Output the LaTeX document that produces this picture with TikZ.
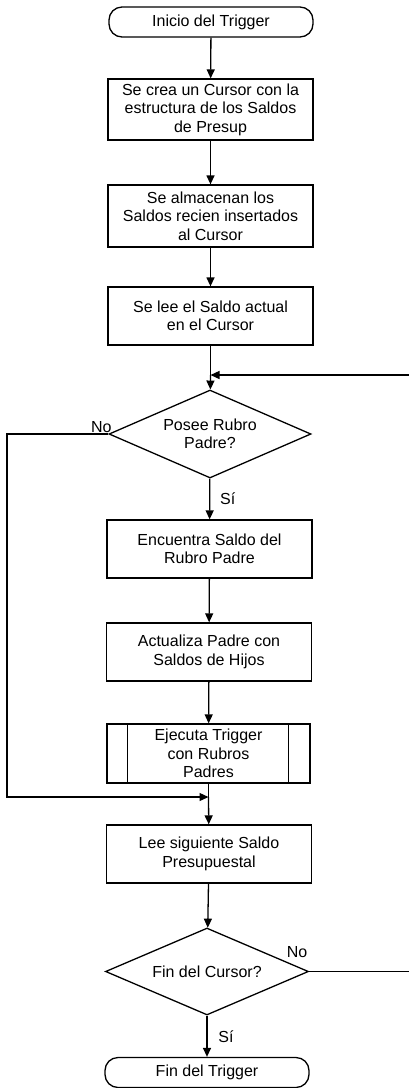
\documentclass[tikz,border=0pt]{standalone}
\usepackage{fontspec}
\setmainfont{Liberation Sans}
\usetikzlibrary{shapes.geometric,arrows.meta}
\tikzset{
  txt/.style={font=\fontsize{16}{18.5}\selectfont, align=center},
  proc/.style={txt, draw, line width=1.3pt, minimum width=205pt, minimum height=58pt, inner sep=0pt},
  term/.style={txt, draw, line width=1.3pt, rounded corners=13pt, minimum width=204pt, minimum height=30pt, inner sep=0pt},
  dec/.style={txt, draw, line width=1.3pt, diamond, aspect=2.3, minimum width=202pt, minimum height=88pt, inner sep=0pt},
  conn/.style={line width=1.3pt},
  arr/.style={conn, -{Triangle[length=9pt,width=8pt]}},
  lbl/.style={font=\fontsize{16}{18.5}\selectfont, inner sep=0pt}
}
\begin{document}
\begin{tikzpicture}[x=1pt,y=-1pt]
\useasboundingbox (0,0) rectangle (409,1088);
\node[term] (start) at (211,22) {Inicio del Trigger};
\node[proc, minimum height=61pt] (b1) at (210.5,109.5) {Se crea un Cursor con la\\estructura de los Saldos\\de Presup};
\node[proc, minimum height=62pt] (b2) at (210.5,216) {Se almacenan los\\Saldos recien insertados\\al Cursor};
\node[proc] (b3) at (210.5,316) {Se lee el Saldo actual\\en el Cursor};
\coordinate (m1) at (210.5,375);
\node[dec] (d1) at (210,434) {Posee Rubro\\Padre?};
\node[proc] (b4) at (209.5,549) {Encuentra Saldo del\\Rubro Padre};
\node[proc] (b5) at (209,652) {Actualiza Padre con\\Saldos de Hijos};
\node[proc, minimum width=203pt, minimum height=59pt] (b6) at (208.5,753.5) {Ejecuta Trigger\\con Rubros\\Padres};
\draw[conn] ([xshift=21pt]b6.north west) -- ([xshift=21pt]b6.south west);
\draw[conn] ([xshift=-22pt]b6.north east) -- ([xshift=-22pt]b6.south east);
\coordinate (m2) at (208.5,797);
\node[proc] (b7) at (209,854) {Lee siguiente Saldo\\Presupuestal};
\node[dec, minimum width=203pt, minimum height=87pt] (d2) at (207,971.5) {Fin del Cursor?};
\node[term] (end) at (207,1072.5) {Fin del Trigger};
% connectors
\draw[arr] (start) -- (b1);
\draw[arr] (b1) -- (b2);
\draw[arr] (b2) -- (b3);
\draw[conn] (b3) -- (m1);
\draw[arr] (m1) -- (d1);
\draw[arr] (d1) -- node[lbl, pos=0.5, xshift=18pt] {Sí} (b4);
\draw[arr] (b4) -- (b5);
\draw[arr] (b5) -- (b6);
\draw[conn] (b6) -- (m2);
\draw[arr] (m2) -- (b7);
\draw[arr] (b7) -- (d2);
\draw[arr] (d2) -- node[lbl, pos=0.5, xshift=19pt] {Sí} (end);
% No branch of first decision
\coordinate (l1) at (7,434);
\coordinate (l2) at (7,797);
\draw[arr] (d1.west) -- (l1) -- (l2) -- (m2);
\node[lbl, anchor=south] (no1) at ([xshift=-7pt, yshift=1pt]d1.west) {No};
% No branch of second decision (loop back, continues off the page)
\coordinate (r2) at (409,971.5);
\coordinate (r1) at (409,375);
\draw[conn] (d2.east) -- (r2);
\draw[arr] (r1) -- (m1);
\node[lbl] (no2) at (297,952) {No};
\end{tikzpicture}
\end{document}
